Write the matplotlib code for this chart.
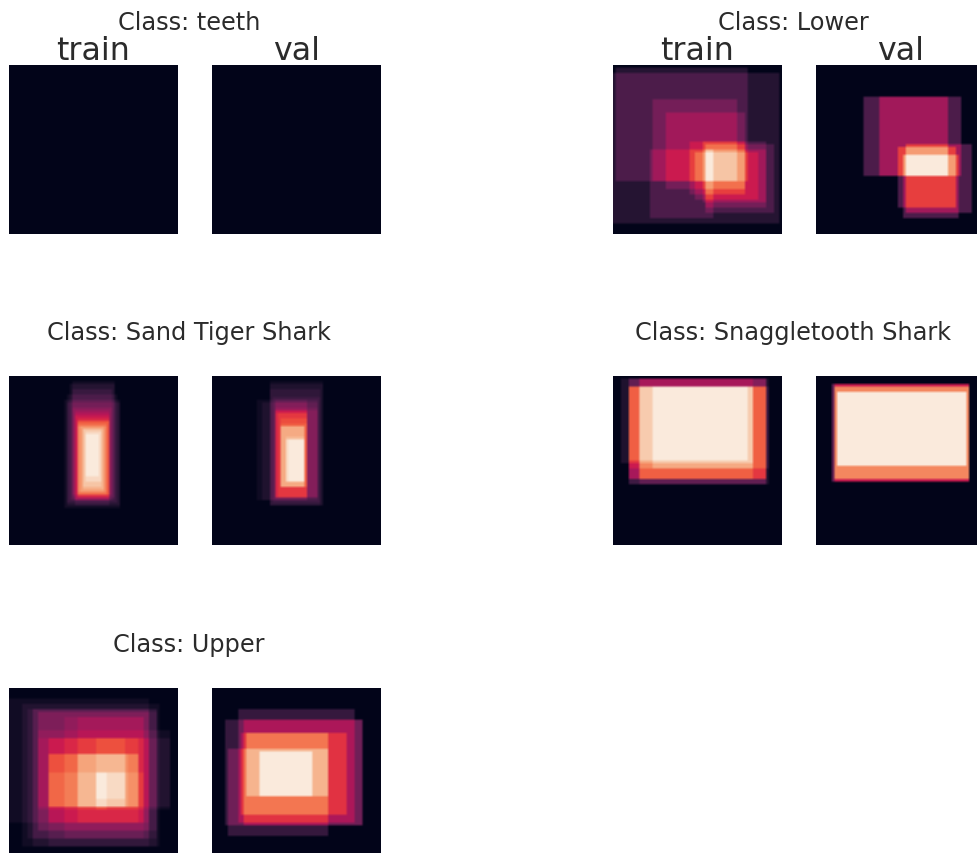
import matplotlib
matplotlib.use('Agg')
import matplotlib.pyplot as plt
import numpy as np
import seaborn as sns

# bounding boxes per class, x0, y0, x1, y1 in percent of the image
teeth_train = []
teeth_val = []

lower_train = [
    (0, 4, 99, 93), (2, 2, 80, 69), (22, 50, 59, 90), (24, 21, 73, 69),
    (31, 28, 78, 73), (45, 46, 78, 76), (48, 51, 86, 80), (55, 47, 95, 87),
    (53, 46, 91, 81), (54, 50, 90, 84),
]
lower_val = [
    (27.5, 19, 78.5, 65), (37, 18, 85.5, 65.5), (49, 49, 83, 84),
    (53, 47, 92, 87), (52, 53, 84, 91),
]

sand_train = [
    (37, 3, 62, 72), (36, 5, 63, 73), (38, 8, 61, 71), (35, 11, 64, 75),
    (33, 14, 66, 78), (34, 16, 65, 77), (38, 18, 61, 74), (39, 20, 60, 76),
    (39, 22, 60, 73.5), (39, 24, 60, 73), (40, 25, 59, 72.5), (40, 26, 59, 72),
    (40, 27, 59, 70.5), (41, 28, 58, 70), (41, 29, 58, 69), (42, 30, 57, 68),
    (43, 31, 56, 67), (44, 32, 55, 66), (45, 33, 54, 63), (46, 34, 53, 60),
]
sand_val = [
    (26, 14, 56, 74), (30, 16, 56, 74), (35, 2.4, 66, 76), (35, 5, 65, 76),
    (35, 8, 64, 76), (36, 12, 64, 75), (37, 14, 63, 73), (37, 16, 63, 72),
    (38, 19, 63, 72), (38, 20, 63, 72), (38, 20, 56.5, 72), (38, 21, 56.5, 72),
    (38, 22, 56, 72), (39, 22, 56, 72), (40, 25, 56, 65), (40, 28, 56, 65),
    (40, 29, 55, 65), (40, 30, 55, 65), (40, 30, 54.5, 65), (41, 30, 54.5, 65),
    (44, 36, 54.5, 62), (44, 37, 54.5, 62), (44, 37, 54.5, 62), (45, 38, 54.5, 62),
]

snaggle_train = [
    (5, 2, 83, 52), (9, 2, 90, 64), (10, 2, 90, 64), (10, 7, 83, 55),
    (10, 7, 80, 50), (10, 7, 90, 61), (10, 7, 90, 61), (10, 7, 90, 61),
    (16, 2, 90, 61), (16, 7, 83, 61), (16, 2, 91.5, 64), (23, 7, 91.5, 55),
]
snaggle_val = [
    (9, 4.7, 90, 63), (10.4, 4.7, 90.5, 63), (10.4, 7, 90, 60.6), (12, 8.6, 89, 52.4),
]

upper_train = [
    (0.6, 7, 83, 80), (8.5, 9, 89, 94), (11, 12, 87, 89), (14, 12, 87, 94),
    (14, 12, 83, 89), (17, 25, 96, 70), (17, 29, 96, 72), (17, 14, 87, 84),
    (17, 14, 83, 84), (24, 29, 83, 94), (33, 17, 80, 89), (40, 17, 80, 80),
    (24, 50, 80, 80), (24, 29, 77, 80), (24, 39, 77, 70), (24, 39, 77, 70),
    (24, 39, 77, 70), (40, 39, 71, 70), (40, 39, 68, 70), (52, 29, 68, 70),
    (52, 50, 68, 66), (52, 50, 57.5, 72),
]
upper_val = [
    (15.3, 13, 84, 80), (18, 18.4, 89, 81.6), (9, 35.5, 68.6, 87), (8, 18.4, 89, 82),
    (17, 27, 80, 75), (20, 27, 69, 64), (28, 37.5, 59.4, 64),
]

class_names = ['teeth', 'Lower', 'Sand Tiger Shark', 'Snaggletooth Shark', 'Upper']
class_boxes = [
    (teeth_train, teeth_val), (lower_train, lower_val), (sand_train, sand_val),
    (snaggle_train, snaggle_val), (upper_train, upper_val),
]

W, H = 978, 854
GRID = 64
TEXT = '#2b2b2b'


def box_heat(boxes):
    heat = np.zeros((GRID, GRID))
    for x0, y0, x1, y1 in boxes:
        c0, c1 = round(x0 * GRID / 100), round(x1 * GRID / 100)
        r0, r1 = round(y0 * GRID / 100), round(y1 * GRID / 100)
        heat[r0:r1, c0:c1] += 1
    if heat.max() > 0:
        heat = heat / heat.max()
    return heat


def add_panel(fig, left, top, boxes):
    size = 169
    ax = fig.add_axes([left / W, 1 - (top + size) / H, size / W, size / H])
    ax.imshow(box_heat(boxes), cmap=sns.color_palette('rocket', as_cmap=True),
              vmin=0, vmax=1, interpolation='bilinear', aspect='auto')
    ax.axis('off')
    return ax


fig = plt.figure(figsize=(W / 100, H / 100), dpi=100)

col_x = [(9, 212, 189), (613, 816, 793)]
row_y = [66, 377, 689]

for i, name in enumerate(class_names):
    train_x, val_x, title_x = col_x[i % 2]
    top = row_y[i // 2]
    add_panel(fig, train_x, top, class_boxes[i][0])
    add_panel(fig, val_x, top, class_boxes[i][1])
    fig.text(title_x / W, 1 - (top - 43.5) / H, f'Class: {name}', fontsize=17.3,
             color=TEXT, ha='center', va='center')
    if i < 2:
        fig.text((train_x + 84.5) / W, 1 - (top - 15) / H, 'train', fontsize=22.8,
                 color=TEXT, ha='center', va='center')
        fig.text((val_x + 84.5) / W, 1 - (top - 15) / H, 'val', fontsize=22.8,
                 color=TEXT, ha='center', va='center')

fig.savefig('out.png', dpi=100)
